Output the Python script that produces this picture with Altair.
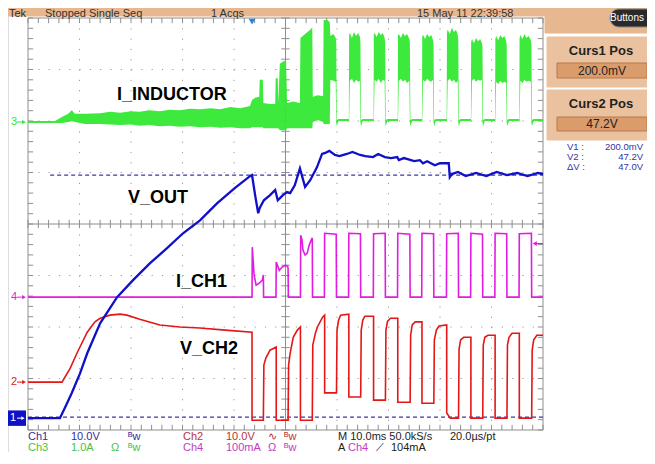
import altair as alt
import numpy as np
import pandas as pd

# ------------------------------------------------------------------ channels
# M 10.0 ms/div -> 10 divisions = 0..100 ms ; vertical graticule = 8 divisions
ch_label = ["Ch1", "Ch2", "Ch3", "Ch4"]
ch_per_div = [10.0, 10.0, 1.0, 100.0]        # V/div, V/div, A/div, mA/div
ch_ground = [-3.77, -3.07, 1.98, -1.42]       # ground marker (div from centre)
ch_color = ["#1010C8", "#E41616", "#33E833", "#E01CE0"]

# Ch1  V_OUT  (ms, V)
vout_t = [0, 6.2, 7.4, 8.5, 10.1, 11.5, 14.0, 17.3, 20.4, 23.7, 27.0, 30.1, 33.4, 36.7, 40.2,
          43.1, 43.5, 44.1, 44.7, 45.0, 45.8, 47.0, 48.0, 48.5, 49.5, 50.3, 50.9, 51.8, 52.8,
          53.8, 54.8, 56.1, 57.1, 57.7, 58.5, 59.6, 60.5, 61.9, 63.0, 64.5, 65.5, 67.0, 68.0,
          69.3, 70.5, 71.7, 72.0, 73.0, 75.0, 76.1, 76.7, 77.5, 79.0, 80.0, 81.7, 81.9, 82.3,
          83.5, 85.0, 87.0, 89.0, 91.0, 93.0, 95.0, 97.0, 99.0, 100]
vout_v = [0, 0, 2.5, 4.9, 8.7, 12.6, 18.4, 23.5, 26.8, 30.1, 33.0, 35.9, 38.4, 41.7, 44.7,
          47.0, 47.2, 43.3, 39.8, 40.8, 42.3, 43.3, 44.3, 42.3, 43.3, 43.9, 43.7, 45.2, 48.5,
          44.9, 46.2, 48.7, 51.3, 51.5, 51.9, 51.1, 50.9, 51.3, 51.7, 51.1, 50.9, 50.7, 51.3,
          50.7, 50.5, 50.7, 50.1, 50.5, 49.9, 50.1, 49.5, 49.9, 49.1, 49.5, 49.5, 46.8, 47.4,
          47.8, 47.0, 47.6, 47.0, 47.8, 47.2, 47.6, 47.0, 47.6, 47.4]

# Ch2  V_CH2  (ms, V)
vch2_t = [0, 6.6, 8.2, 9.5, 11.5, 13.0, 14.0, 15.9, 17.9, 19.2, 21.7, 25.6, 29.5, 33.4, 38.3, 43.5,
          43.5, 45.7, 45.8, 46.2, 47.0, 48.2,
          48.2, 50.5, 50.6, 50.9, 51.5, 52.3, 52.9,
          52.9, 55.2, 55.3, 55.8, 56.2, 57.2, 57.6,
          57.6, 59.9, 60.0, 60.3, 60.7, 62.3,
          62.3, 64.6, 64.7, 65.0, 65.4, 67.1,
          67.1, 69.4, 69.5, 69.8, 70.4, 71.8,
          71.8, 74.2, 74.3, 74.6, 75.2, 76.5,
          76.5, 78.8, 78.9, 79.3, 79.8, 81.3,
          81.3, 82.0, 83.6, 83.7, 84.0, 84.6, 86.0,
          86.0, 88.3, 88.4, 88.7, 89.3, 90.7,
          90.7, 93.0, 93.1, 93.4, 94.0, 95.4,
          95.4, 97.8, 97.9, 98.2, 98.8, 100]
vch2_v = [0, 0, 2.7, 5.6, 9.7, 11.7, 12.4, 13.0, 13.2, 13.0, 12.2, 11.1, 10.7, 10.5, 10.1, 9.7,
          -7.4, -7.4, 3.3, 4.7, 6.2, 6.8,
          -7.4, -7.4, 3.3, 5.6, 8.7, 10.1, 10.7,
          -7.4, -7.4, 7.2, 9.5, 10.7, 12.6, 13.0,
          -2.1, -2.1, 10.1, 12.0, 13.0, 13.2,
          -2.9, -2.9, 10.1, 12.0, 12.8, 12.8,
          -3.5, -3.5, 10.1, 11.8, 12.4, 12.4,
          -3.9, -3.9, 9.1, 11.1, 11.7, 11.7,
          -4.1, -4.1, 8.2, 10.1, 10.9, 11.1,
          -6.0, -7.0, -7.0, 6.4, 8.2, 8.7, 8.7,
          -7.0, -7.0, 7.2, 8.7, 9.1, 9.1,
          -7.0, -7.0, 7.2, 8.7, 9.5, 9.5,
          -7.0, -7.0, 6.2, 8.2, 9.1, 9.1]

# Ch4  I_CH1  (ms, mA)
ich1_t = [0, 43.5, 43.55, 43.9, 44.3, 44.9, 45.5, 45.7, 45.75,
          48.15, 48.2, 48.8, 49.3, 50.0, 50.4, 50.5, 50.55,
          52.9, 52.95, 53.2, 53.4, 53.8, 54.2, 54.6, 55.0, 55.2, 55.25,
          57.55, 57.6, 59.85, 59.9,
          62.25, 62.3, 64.55, 64.6,
          67.05, 67.1, 69.35, 69.4,
          71.75, 71.8, 74.15, 74.2,
          76.45, 76.5, 78.75, 78.8,
          81.25, 81.3, 83.55, 83.6,
          85.95, 86.0, 88.25, 88.3,
          90.65, 90.7, 92.95, 93.0,
          95.35, 95.4, 97.75, 97.8, 100]
ich1_ma = [0, 0, 97, 43, 23, 27, 33, 43, 0,
           0, 68, 52, 58, 62, 60, 56, 0,
           0, 120, 111, 91, 82, 85, 101, 111, 115, 0,
           0, 124, 122, 0,
           0, 124, 123, 0,
           0, 123, 124, 0,
           0, 124, 122, 0,
           0, 124, 123, 0,
           0, 123, 124, 0,
           0, 124, 122, 0,
           0, 124, 123, 0,
           0, 123, 124, 0, 0]

# Ch3  I_INDUCTOR  envelope (ms, upper A, lower A)
ind_t = [0.0, 5.2, 6.6, 7.8, 8.5, 9.1, 11.1, 14.0, 16.0, 17.9, 20.0, 21.7, 23.5, 25.6, 27.5,
         29.5, 31.5, 33.4, 35.5, 37.3, 39.3, 41.2, 43.1, 43.5, 44.1, 44.9, 45.0, 45.6, 45.7,
         47.0, 48.0, 48.1, 48.5, 48.6, 48.9, 49.5, 50.1, 50.3, 51.5, 52.8, 52.9, 53.8, 54.8,
         55.2, 55.3, 56.3, 57.3, 57.4, 58.1, 58.6, 58.7, 59.3, 59.75, 59.85, 59.95, 60.3, 62.2,
         62.3, 62.35, 62.5, 62.9, 63.3, 63.7, 64.1, 64.45, 64.55, 64.65, 65.0, 67.0,
         67.1, 67.15, 67.3, 67.7, 68.1, 68.5, 68.9, 69.25, 69.35, 69.45, 69.8, 71.7,
         71.8, 71.85, 72.0, 72.4, 72.8, 73.2, 73.6, 74.05, 74.15, 74.25, 74.6, 76.4,
         76.5, 76.55, 76.7, 77.1, 77.5, 77.9, 78.3, 78.65, 78.75, 78.85, 79.2, 81.2,
         81.3, 81.35, 81.5, 81.9, 82.3, 82.7, 83.1, 83.45, 83.55, 83.65, 84.0, 85.9,
         86.0, 86.05, 86.2, 86.6, 87.0, 87.4, 87.8, 88.15, 88.25, 88.35, 88.7, 90.6,
         90.7, 90.75, 90.9, 91.3, 91.7, 92.1, 92.5, 92.85, 92.95, 93.05, 93.4, 95.3,
         95.4, 95.45, 95.6, 96.0, 96.4, 96.8, 97.2, 97.65, 97.75, 97.85, 98.2, 100]
ind_hi = [0.02, 0.02, 0.10, 0.16, 0.23, 0.16, 0.16, 0.17, 0.20, 0.18, 0.21, 0.20, 0.23, 0.21, 0.24,
          0.23, 0.26, 0.25, 0.27, 0.25, 0.29, 0.27, 0.31, 0.43, 0.47, 0.49, 0.82, 0.82, 0.37,
          0.35, 0.35, 0.85, 0.85, 0.37, 1.13, 1.17, 1.20, 0.37, 0.40, 0.37, 1.63, 1.71, 1.79,
          1.84, 0.49, 0.52, 0.50, 1.98, 1.98, 1.94, 1.67, 1.71, 1.63, 1.55, 0.04, 0.06, 0.06,
          0.06, 1.69, 1.73, 1.63, 1.75, 1.67, 1.73, 1.65, 1.55, 0.04, 0.06, 0.06,
          0.06, 1.71, 1.73, 1.65, 1.75, 1.69, 1.73, 1.63, 1.55, 0.04, 0.06, 0.06,
          0.06, 1.69, 1.71, 1.63, 1.73, 1.67, 1.71, 1.61, 1.55, 0.04, 0.06, 0.06,
          0.06, 1.67, 1.69, 1.61, 1.71, 1.65, 1.69, 1.59, 1.50, 0.04, 0.06, 0.06,
          0.06, 1.75, 1.79, 1.71, 1.83, 1.75, 1.79, 1.69, 1.60, 0.04, 0.06, 0.06,
          0.06, 1.55, 1.61, 1.53, 1.63, 1.57, 1.61, 1.53, 1.45, 0.04, 0.06, 0.06,
          0.06, 1.61, 1.67, 1.59, 1.69, 1.63, 1.67, 1.57, 1.50, 0.04, 0.06, 0.06,
          0.06, 1.63, 1.69, 1.61, 1.71, 1.63, 1.67, 1.59, 1.50, 0.04, 0.06, 0.06]
ind_lo = [-0.02, -0.02, -0.02, 0.00, 0.02, 0.00, -0.04, -0.04, -0.05, -0.06, -0.05, -0.07, -0.06, -0.08, -0.07,
          -0.09, -0.08, -0.10, -0.09, -0.11, -0.10, -0.12, -0.12, -0.10, -0.10, -0.10, -0.10, -0.10, -0.12,
          -0.12, -0.12, -0.12, -0.12, -0.12, -0.16, -0.16, -0.16, -0.12, -0.12, -0.12, -0.12, -0.12, -0.12,
          -0.12, 0.00, 0.04, 0.00, -0.04, -0.04, -0.04, 0.82, 0.80, 0.78, 0.00, -0.08, 0.02, 0.02,
          0.00, 0.00, 0.80, 0.84, 0.76, 0.82, 0.78, 0.80, 0.00, -0.08, 0.02, 0.02,
          0.00, 0.00, 0.82, 0.78, 0.84, 0.76, 0.82, 0.80, 0.00, -0.08, 0.02, 0.02,
          0.00, 0.00, 0.80, 0.84, 0.78, 0.82, 0.76, 0.80, 0.00, -0.08, 0.02, 0.02,
          0.00, 0.00, 0.82, 0.78, 0.84, 0.80, 0.78, 0.82, 0.00, -0.08, 0.02, 0.02,
          0.00, 0.00, 0.80, 0.84, 0.78, 0.82, 0.76, 0.80, 0.00, -0.08, 0.02, 0.02,
          0.00, 0.00, 0.80, 0.84, 0.78, 0.82, 0.80, 0.82, 0.00, -0.08, 0.02, 0.02,
          0.00, 0.00, 0.78, 0.74, 0.80, 0.76, 0.78, 0.76, 0.00, -0.08, 0.02, 0.02,
          0.00, 0.00, 0.80, 0.76, 0.82, 0.78, 0.80, 0.78, 0.00, -0.08, 0.02, 0.02]

cursor_v = [0.2, 47.2]          # Curs1 / Curs2 on Ch1 (V)
trigger_ma = 104                # A Ch4 rising 104 mA
trigger_t = 43.5                # trigger position (ms)

assert len(vout_t) == len(vout_v) and len(vch2_t) == len(vch2_v)
assert len(ich1_t) == len(ich1_ma)
assert len(ind_t) == len(ind_hi) == len(ind_lo)

# ------------------------------------------------------------------ geometry
W, H = 639, 444
PX_MS, PX_DIV = 5.15, 51.5      # pixels per ms / per division
T0_PAGE, TOP_PAGE = 28, 18      # page position of t=0 and of the +4 div line


def t_of(px):
    return (px - T0_PAGE) / PX_MS


def d_of(py):
    return 4 - (py - TOP_PAGE) / PX_DIV


XS = alt.Scale(domain=[t_of(8), t_of(8 + W)], nice=False, zero=False)
YS = alt.Scale(domain=[d_of(8 + H), d_of(8)], nice=False, zero=False)


def X(f):
    return alt.X(f"{f}:Q", scale=XS, axis=None)


def Y(f):
    return alt.Y(f"{f}:Q", scale=YS, axis=None)


def chan(t, v, k):
    df = pd.DataFrame({"t": t, "v": v})
    df["d"] = ch_ground[k] + df["v"] / ch_per_div[k]
    df["i"] = range(len(df))
    return df


FONT = "Liberation Sans, Arial, sans-serif"
TAN = "#E7B78F"
PANEL = "#EBC29F"
INNER = "#DB9C6C"
INNER_EDGE = "#B8794A"
GRID = "#9C9C9C"

layers = []

# ------------------------------------------------------------------ panels
rects = pd.DataFrame({
    "x": [0, 545, 547, 557, 547, 557],
    "x2": [545, 660, 660, 647, 660, 647],
    "y": [0, 0, 37, 63, 90, 117],
    "y2": [16, 33, 87, 78, 140, 131],
    "fill": [TAN, TAN, PANEL, INNER, PANEL, INNER],
    "stroke": [TAN, TAN, PANEL, INNER_EDGE, PANEL, INNER_EDGE],
})
rects["t"], rects["t2"] = t_of(rects["x"]), t_of(rects["x2"])
rects["d"], rects["d2"] = d_of(rects["y"]), d_of(rects["y2"])
layers.append(alt.Chart(rects).mark_rect(strokeWidth=1).encode(
    x=X("t"), x2="t2", y=Y("d"), y2="d2",
    fill=alt.Fill("fill:N", scale=None), stroke=alt.Stroke("stroke:N", scale=None)))

btn = pd.DataFrame({"t": [t_of(610)], "t2": [t_of(660)], "d": [d_of(9)], "d2": [d_of(27)]})
layers.append(alt.Chart(btn).mark_rect(fill="#2A2A2A", stroke="#8A8A8A", strokeWidth=1,
                                       cornerRadius=9).encode(x=X("t"), x2="t2", y=Y("d"), y2="d2"))

# ------------------------------------------------------------------ graticule
vgrid = pd.DataFrame({"t": [10, 20, 30, 40, 60, 70, 80, 90]})
vgrid["t2"], vgrid["d"], vgrid["d2"] = vgrid["t"], 4, -4
hgrid = pd.DataFrame({"d": [-3, -2, -1, 1, 2, 3]})
hgrid["d2"], hgrid["t"], hgrid["t2"] = hgrid["d"], 0, 100
dotted = pd.concat([vgrid, hgrid], ignore_index=True)
layers.append(alt.Chart(dotted).mark_rule(color=GRID, strokeWidth=1, strokeDash=[1.2, 9.1]).encode(
    x=X("t"), x2="t2", y=Y("d"), y2="d2"))

frame = pd.DataFrame({"t": [0, 100, 0, 0, 50, 0], "t2": [0, 100, 100, 100, 50, 100],
                      "d": [-4, -4, 4, -4, -4, 0], "d2": [4, 4, 4, -4, 4, 0]})
layers.append(alt.Chart(frame).mark_rule(color="#8E8E8E", strokeWidth=1).encode(
    x=X("t"), x2="t2", y=Y("d"), y2="d2"))

tk = []
for tt in np.arange(0, 100.01, 2):
    tk += [(tt, tt, 4, 3.9), (tt, tt, -4, -3.9), (tt, tt, -0.08, 0.08)]
for dd in np.arange(-4, 4.01, 0.2):
    tk += [(0, 1.0, dd, dd), (100, 99.0, dd, dd), (49.2, 50.8, dd, dd)]
ticks = pd.DataFrame(tk, columns=["t", "t2", "d", "d2"])
layers.append(alt.Chart(ticks).mark_rule(color="#8E8E8E", strokeWidth=1).encode(
    x=X("t"), x2="t2", y=Y("d"), y2="d2"))

# ------------------------------------------------------------------ cursors
curs = pd.DataFrame({"t": [0, 4.3], "t2": [100, 100],
                     "d": [ch_ground[0] + c / ch_per_div[0] for c in cursor_v]})
layers.append(alt.Chart(curs).mark_rule(color="#3A3AA8", strokeWidth=1.3, strokeDash=[4, 3]).encode(
    x=X("t"), x2="t2", y=Y("d")))

# ------------------------------------------------------------------ traces
ind = pd.DataFrame({"t": ind_t, "hi": ind_hi, "lo": ind_lo})
ind["dh"] = ch_ground[2] + ind["hi"] / ch_per_div[2]
ind["dl"] = ch_ground[2] + ind["lo"] / ch_per_div[2]
layers.append(alt.Chart(ind).mark_area(color=ch_color[2], opacity=0.95, interpolate="linear").encode(
    x=X("t"), y=Y("dh"), y2="dl"))

for t, v, k, w in [(ich1_t, ich1_ma, 3, 1.6), (vch2_t, vch2_v, 1, 1.6), (vout_t, vout_v, 0, 2.3)]:
    layers.append(alt.Chart(chan(t, v, k)).mark_line(color=ch_color[k], strokeWidth=w,
                                                       strokeJoin="miter").encode(
        x=X("t"), y=Y("d"), order="i:Q"))

# ------------------------------------------------------------------ markers
mk = pd.DataFrame({"num": ["2", "3", "4"], "d": [ch_ground[1], ch_ground[2], ch_ground[3]],
                   "col": [ch_color[1], ch_color[2], ch_color[3]]})
mk["tn"], mk["ta"], mk["ta2"] = t_of(14), t_of(17), t_of(24)
layers.append(alt.Chart(mk).mark_text(font=FONT, fontSize=11, align="center", baseline="middle").encode(
    x=X("tn"), y=Y("d"), text="num:N", color=alt.Color("col:N", scale=None)))
layers.append(alt.Chart(mk).mark_rule(strokeWidth=1).encode(
    x=X("ta"), x2="ta2", y=Y("d"), color=alt.Color("col:N", scale=None)))
layers.append(alt.Chart(mk).mark_point(shape="triangle-right", filled=True, size=18, opacity=1).encode(
    x=X("ta2"), y=Y("d"), color=alt.Color("col:N", scale=None)))

m1 = pd.DataFrame({"t": [t_of(0)], "t2": [t_of(26)], "d": [ch_ground[0] + 0.15],
                   "d2": [ch_ground[0] - 0.15], "tn": [t_of(13)], "ta": [t_of(17)], "ta2": [t_of(23)],
                   "dm": [ch_ground[0]], "num": ["1"]})
layers.append(alt.Chart(m1).mark_rect(fill=ch_color[0]).encode(x=X("t"), x2="t2", y=Y("d"), y2="d2"))
layers.append(alt.Chart(m1).mark_text(font=FONT, fontSize=11, color="white", baseline="middle").encode(
    x=X("tn"), y=Y("dm"), text="num:N"))
layers.append(alt.Chart(m1).mark_rule(color="white", strokeWidth=1).encode(x=X("ta"), x2="ta2", y=Y("dm")))
layers.append(alt.Chart(m1).mark_point(shape="triangle-right", filled=True, size=14, color="white",
                                       opacity=1).encode(x=X("ta2"), y=Y("dm")))

trg = pd.DataFrame({"t": [98.4], "t2": [100], "d": [ch_ground[3] + trigger_ma / ch_per_div[3]]})
layers.append(alt.Chart(trg).mark_rule(color=ch_color[3], strokeWidth=1.2).encode(x=X("t"), x2="t2", y=Y("d")))
layers.append(alt.Chart(trg).mark_point(shape="triangle-left", filled=True, size=22, color=ch_color[3],
                                        opacity=1).encode(x=X("t"), y=Y("d")))

tpos = pd.DataFrame({"t": [trigger_t], "d": [3.93]})
layers.append(alt.Chart(tpos).mark_point(shape="triangle-down", filled=True, size=45, color="#1E88E8",
                                         opacity=1).encode(x=X("t"), y=Y("d")))


# ------------------------------------------------------------------ texts
def texts(rows, **kw):
    df = pd.DataFrame(rows, columns=["px", "py", "text", "col"])
    df["t"], df["d"] = t_of(df["px"]), d_of(df["py"])
    return alt.Chart(df).mark_text(font=FONT, **kw).encode(
        x=X("t"), y=Y("d"), text="text:N", color=alt.Color("col:N", scale=None))


layers.append(texts([(117, 95, "I_INDUCTOR", "#000000"), (128, 198, "V_OUT", "#000000"),
                     (176, 282, "I_CH1", "#000000"), (180, 349, "V_CH2", "#000000")],
                    fontSize=18, fontWeight="bold", align="left", baseline="middle"))

layers.append(texts([(9, 17, "Tek", "#2A2A2A"), (45, 17, "Stopped  Single Seq", "#333333"),
                     (211, 17, "1 Acqs", "#333333"), (417, 17, "15 May 11 22:39:58", "#333333")],
                    fontSize=11, align="left", baseline="alphabetic"))

layers.append(texts([(627, 18, "Buttons", "#FFFFFF")], fontSize=10, align="center", baseline="middle"))
layers.append(texts([(601, 51, "Curs1 Pos", "#222222"), (601, 104, "Curs2 Pos", "#222222")],
                    fontSize=13, fontWeight="bold", align="center", baseline="middle"))
layers.append(texts([(602, 71, "200.0mV", "#222222"), (602, 124, "47.2V", "#222222")],
                    fontSize=12, align="center", baseline="middle"))

BL = "#3434A4"
layers.append(texts([(567, 147, "V1  :", BL), (567, 157, "V2  :", BL), (567, 167, "ΔV  :", BL)],
                    fontSize=9.5, align="left", baseline="middle"))
layers.append(texts([(643, 147, "200.0mV", BL), (643, 157, "47.2V", BL), (643, 167, "47.0V", BL)],
                    fontSize=9.5, align="right", baseline="middle"))

C1, C2, C3, C4, K = "#3030A0", "#B83434", "#48C048", "#C23CC2", "#222222"
r1, r2 = 437, 448
layers.append(texts([
    (28, r1, "Ch1", C1), (71, r1, "10.0V", C1), (128, r1, "ᴮw", C1),
    (183, r1, "Ch2", C2), (226, r1, "10.0V", C2), (268, r1, "∿", C2), (284, r1, "ᴮw", C2),
    (28, r2, "Ch3", C3), (71, r2, "1.0A", C3), (111, r2, "Ω", C3), (128, r2, "ᴮw", C3),
    (183, r2, "Ch4", C4), (226, r2, "100mA", C4), (268, r2, "Ω", C4), (284, r2, "ᴮw", C4),
    (338, r1, "M 10.0ms 50.0kS/s", K), (450, r1, "20.0µs/pt", K),
    (338, r2, "A", K), (348, r2, "Ch4", C4), (376, r2, "⟋", K), (391, r2, "104mA", K)],
    fontSize=11, align="left", baseline="middle"))

chart = alt.layer(*layers).properties(
    width=W, height=H, padding=0, autosize=alt.AutoSizeParams(type="none")
).configure_view(stroke=None).configure(background="white")

chart.save("out.html", embed_options={"renderer": "svg", "actions": False})
